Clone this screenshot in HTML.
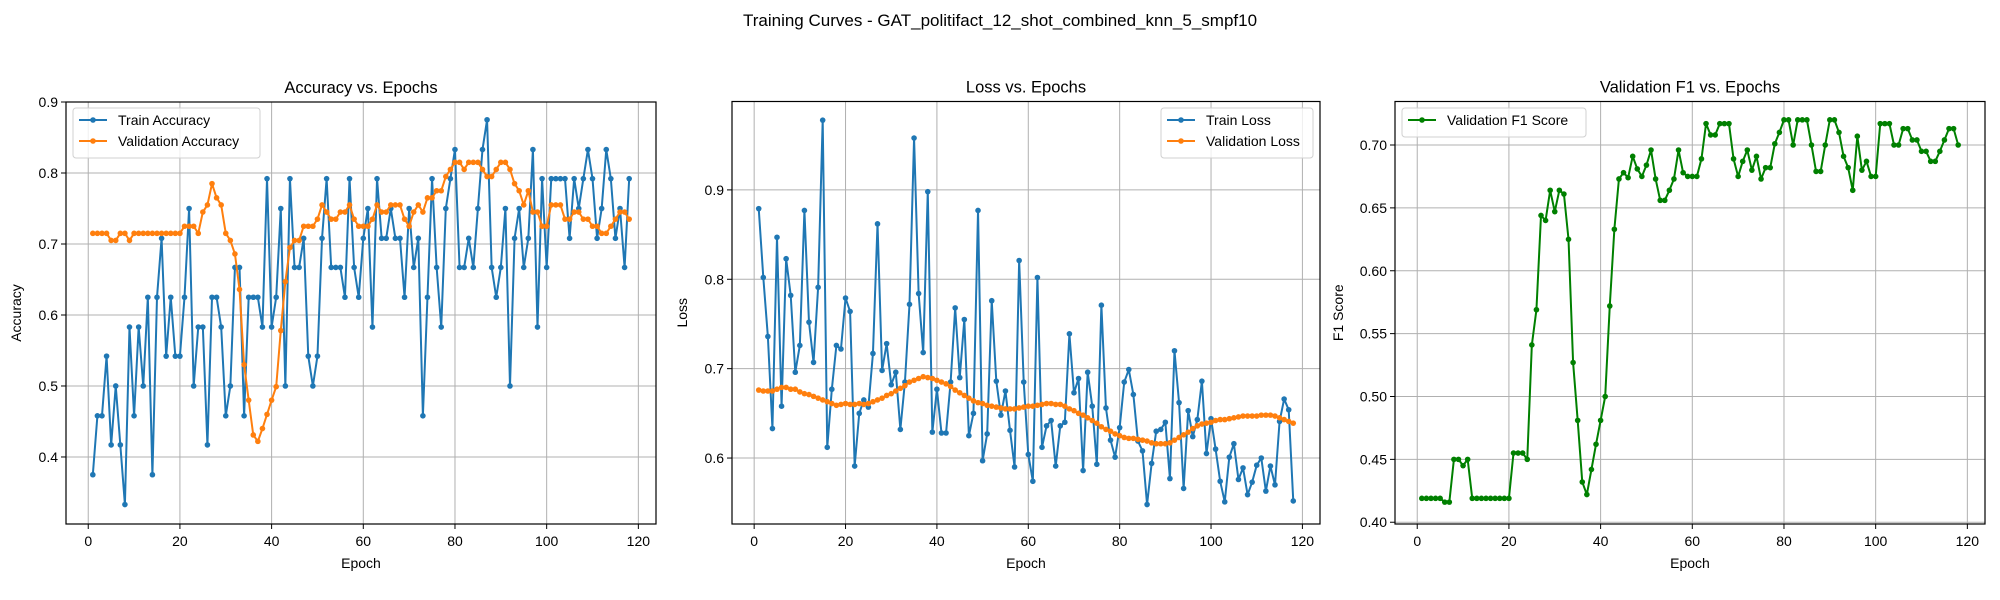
<!DOCTYPE html>
<html><head><meta charset="utf-8">
<style>
html,body{margin:0;padding:0;background:#fff;}
svg{display:block;font-family:"Liberation Sans","DejaVu Sans",sans-serif;}
</style></head>
<body>
<svg id="fig" width="2000" height="600" viewBox="0 0 2000 600" xmlns="http://www.w3.org/2000/svg">
<rect width="2000" height="600" fill="#fff"/>
<text x="1000" y="26" font-size="17" text-anchor="middle" fill="#000">Training Curves - GAT_politifact_12_shot_combined_knn_5_smpf10</text>
</svg>
<script>
const trainAcc=[0.375,0.458,0.458,0.542,0.417,0.5,0.417,0.333,0.583,0.458,0.583,0.5,0.625,0.375,0.625,0.708,0.542,0.625,0.542,0.542,0.625,0.75,0.5,0.583,0.583,0.417,0.625,0.625,0.583,0.458,0.5,0.667,0.667,0.458,0.625,0.625,0.625,0.583,0.792,0.583,0.625,
0.75,0.5,0.792,0.667,0.667,0.708,0.542,0.5,0.542,0.708,0.792,0.667,0.667,0.667,0.625,0.792,0.667,0.625,0.708,0.75,0.583,0.792,0.708,0.708,0.75,0.708,0.708,0.625,0.75,0.667,0.708,0.458,0.625,0.792,0.667,0.583,0.75,0.792,0.833,0.667,0.667,0.708,0.667,0.75,0.833,0.875,0.667,0.625,0.667,0.75,0.5,0.708,0.75,0.667,0.708,0.833,0.583,0.792,0.667,0.792,0.792,
0.792,0.792,0.708,0.792,0.75,0.792,0.833,0.792,0.708,0.75,0.833,0.792,0.708,0.75,0.667,0.792];
const valAcc=[0.715,0.715,0.715,0.715,0.705,0.705,0.715,0.715,0.705,0.715,0.715,0.715,0.715,0.715,0.715,0.715,0.715,0.715,0.715,0.715,0.725,0.725,0.725,0.715,0.745,0.755,0.785,0.765,0.755,0.715,0.705,0.686,0.636,0.53,0.48,0.431,0.422,0.44,0.46,0.48,0.499,
0.578,0.647,0.695,0.705,0.705,0.725,0.725,0.725,0.735,0.755,0.745,0.735,0.735,0.745,0.745,0.755,0.735,0.725,0.725,0.725,0.735,0.755,0.745,0.745,0.755,0.755,0.755,0.735,0.725,0.745,0.755,0.745,0.765,0.765,0.775,0.775,0.795,0.805,0.815,0.815,0.805,0.815,0.815,0.815,0.805,0.795,0.795,0.805,0.815,0.815,0.805,0.785,0.775,0.755,0.775,0.745,0.745,0.725,0.725,0.755,0.755,
0.755,0.735,0.735,0.745,0.745,0.735,0.735,0.725,0.725,0.715,0.715,0.725,0.735,0.745,0.745,0.735];
const trainLoss=[0.879,0.802,0.736,0.633,0.847,0.658,0.823,0.782,0.696,0.726,0.877,0.752,0.707,0.791,0.978,0.612,0.677,0.726,0.722,0.779,0.764,0.591,0.650,0.665,0.657,0.717,0.862,0.698,0.728,0.682,0.696,0.632,0.685,0.772,0.958,0.784,0.718,0.898,
0.629,0.677,0.628,0.628,0.685,0.768,0.690,0.755,0.625,0.650,0.877,0.597,0.627,0.776,0.686,0.648,0.675,0.631,0.590,0.821,0.685,0.604,0.574,0.802,0.612,0.636,0.642,0.591,0.636,0.640,0.739,0.673,0.689,0.586,0.696,0.658,0.593,0.771,0.656,0.620,0.601,0.634,0.685,0.699,
0.671,0.619,0.608,0.548,0.594,0.630,0.632,0.640,0.577,0.720,0.662,0.566,0.653,0.624,0.643,0.686,0.605,0.644,0.610,0.574,0.551,0.601,0.616,0.576,0.589,0.559,0.573,0.592,0.600,0.563,0.591,0.570,0.641,0.666,0.654,0.552];
const valLoss=[0.676,0.675,0.675,0.675,0.677,0.679,0.679,0.677,0.677,0.674,0.672,0.671,0.669,0.667,0.665,0.663,0.661,0.659,0.660,0.661,0.660,0.660,0.661,0.660,0.661,0.663,0.665,0.667,0.670,0.672,0.675,0.678,0.681,0.685,0.687,0.689,0.691,0.690,0.689,0.687,0.685,0.683,0.680,0.676,0.673,0.670,0.667,0.664,0.662,0.661,0.659,0.658,0.657,0.656,0.655,0.655,0.655,0.656,0.657,0.658,0.658,0.659,0.660,0.661,0.661,0.660,0.660,0.658,0.655,0.653,0.650,0.648,0.645,0.642,0.639,0.635,0.632,0.630,0.627,0.625,0.623,0.622,0.622,0.621,0.620,0.619,0.617,0.616,0.616,0.616,0.617,0.620,0.623,0.626,0.629,0.633,0.636,0.638,0.639,0.640,0.642,0.643,0.643,0.644,0.645,0.646,0.647,0.647,0.647,0.647,0.648,0.648,0.648,0.647,0.645,0.643,0.641,0.639];
const valF1=[0.419,0.419,0.419,0.419,0.419,0.416,0.416,0.450,0.450,0.445,0.450,0.419,0.419,0.419,0.419,0.419,0.419,0.419,0.419,0.419,0.455,0.455,0.455,0.450,0.541,0.569,0.644,0.640,0.664,0.647,0.664,0.661,0.625,0.527,0.481,0.432,0.422,0.442,0.462,0.481,0.500,0.572,0.633,0.673,0.678,0.674,0.691,0.681,0.675,0.684,0.696,0.673,0.656,0.656,0.664,0.673,0.696,0.678,0.675,0.675,0.675,0.689,0.717,0.708,0.708,0.717,0.717,0.717,0.689,0.675,0.687,0.696,0.680,0.691,0.673,0.682,0.682,0.701,0.710,0.720,0.720,0.700,0.720,0.720,0.720,0.700,0.679,0.679,0.700,0.720,0.720,0.710,0.691,0.682,0.664,0.707,0.680,0.687,0.675,0.675,0.717,0.717,0.717,0.700,0.700,0.713,0.713,0.704,0.704,0.695,0.695,0.687,0.687,0.695,0.704,0.713,0.713,0.700];
const xTicks=[0,20,40,60,80,100,120];
const accTicks=[0.4,0.5,0.6,0.7,0.8,0.9];
const lossTicks=[0.6,0.7,0.8,0.9];
const f1Ticks=[0.40,0.45,0.50,0.55,0.60,0.65,0.70];

const NS="http://www.w3.org/2000/svg";
const svg=document.getElementById('fig');
function mk(tag,attrs,parent){const e=document.createElementNS(NS,tag);for(const k in attrs)e.setAttribute(k,attrs[k]);(parent||svg).appendChild(e);return e;}

function panel(p){
  const g=mk('g',{});
  
  
  const X=e=>p.x0+(e-p.xmin)/(p.xmax-p.xmin)*(p.x1-p.x0);
  const Y=v=>p.y1-(v-p.ymin)/(p.ymax-p.ymin)*(p.y1-p.y0);
  // grid
  xTicks.forEach(t=>{const l=mk('line',{x1:X(t),x2:X(t),y1:p.y0,y2:p.y1,stroke:'#b0b0b0','stroke-width':1},g);
    });
  p.yt.forEach(t=>{const l=mk('line',{x1:p.x0,x2:p.x1,y1:Y(t),y2:Y(t),stroke:'#b0b0b0','stroke-width':1},g);
    });
  // series
  p.series.forEach(s=>{
    const sg=mk('g',{},g);
    
    
    const pts=s.data.map((v,i)=>X(i+1).toFixed(2)+','+Y(v).toFixed(2)).join(' ');
    mk('polyline',{points:pts,fill:'none',stroke:s.color,'stroke-width':2,'stroke-linejoin':'round'},sg);
    s.data.forEach((v,i)=>{const c=mk('circle',{cx:X(i+1),cy:Y(v),r:2.8,fill:s.color},sg);
      });
  });
  // frame
  const fr=mk('rect',{x:p.x0,y:p.y0,width:p.x1-p.x0,height:p.y1-p.y0,fill:'none',stroke:'#000','stroke-width':1.2},g);
  
  // ticks
  xTicks.forEach(t=>{mk('line',{x1:X(t),x2:X(t),y1:p.y1,y2:p.y1+5,stroke:'#000','stroke-width':1},g);
    const tx=mk('text',{x:X(t),y:p.y1+22,'font-size':14,'text-anchor':'middle',fill:'#000'},g);tx.textContent=t;
    });
  p.yt.forEach(t=>{mk('line',{x1:p.x0-5,x2:p.x0,y1:Y(t),y2:Y(t),stroke:'#000','stroke-width':1},g);
    const tx=mk('text',{x:p.x0-8,y:Y(t)+5,'font-size':14,'text-anchor':'end',fill:'#000'},g);tx.textContent=t.toFixed(p.dec);
    });
  const ti=mk('text',{x:(p.x0+p.x1)/2,y:p.y0-9,'font-size':16.5,'text-anchor':'middle',fill:'#000'},g);ti.textContent=p.title;
  
  const xl=mk('text',{x:(p.x0+p.x1)/2,y:p.y1+44,'font-size':14,'text-anchor':'middle',fill:'#000'},g);xl.textContent='Epoch';
  
  const yl=mk('text',{x:0,y:0,'font-size':14,'text-anchor':'middle',fill:'#000',transform:'translate('+p.ylx+','+((p.y0+p.y1)/2)+') rotate(-90)'},g);yl.textContent=p.ylabel;
  
  // legend
  const L=p.legend;
  const lg=mk('g',{},g);
  
  
  mk('rect',{x:L.x,y:L.y,width:L.w,height:8+21*p.series.length,rx:3,fill:'#fff','fill-opacity':0.8,stroke:'#d0d0d0','stroke-width':1},lg);
  p.series.forEach((s,i)=>{const cy=L.y+12+21*i;
    const eg=mk('g',{},lg);
    
    
    mk('line',{x1:L.x+6,x2:L.x+34,y1:cy,y2:cy,stroke:s.color,'stroke-width':2},eg);
    mk('circle',{cx:L.x+20,cy:cy,r:2.8,fill:s.color},eg);
    const t=mk('text',{x:L.x+45,y:cy+5,'font-size':14,fill:'#000'},eg);t.textContent=s.label;});
}
const XMIN=-4.85,XMAX=123.85;
panel({name:'accuracy-panel',title:'Accuracy vs. Epochs',ylabel:'Accuracy',ylx:21,x0:66,x1:656,y0:102,y1:524,xmin:XMIN,xmax:XMAX,ymin:0.3056,ymax:0.9,yt:accTicks,dec:1,
  legend:{x:73,y:108,w:187},
  series:[{name:'train-accuracy-line',label:'Train Accuracy',color:'#1f77b4',data:trainAcc},{name:'validation-accuracy-line',label:'Validation Accuracy',color:'#ff7f0e',data:valAcc}]});
panel({name:'loss-panel',title:'Loss vs. Epochs',ylabel:'Loss',ylx:687,x0:732,x1:1320,y0:101.5,y1:524,xmin:XMIN,xmax:XMAX,ymin:0.5262,ymax:0.9989,yt:lossTicks,dec:1,
  legend:{x:1161,y:108,w:152},
  series:[{name:'train-loss-line',label:'Train Loss',color:'#1f77b4',data:trainLoss},{name:'validation-loss-line',label:'Validation Loss',color:'#ff7f0e',data:valLoss}]});
panel({name:'f1-panel',title:'Validation F1 vs. Epochs',ylabel:'F1 Score',ylx:1343,x0:1395,x1:1985,y0:101.5,y1:524,xmin:XMIN,xmax:XMAX,ymin:0.3986,ymax:0.7346,yt:f1Ticks,dec:2,
  legend:{x:1402,y:108,w:184},
  series:[{name:'validation-f1-line',label:'Validation F1 Score',color:'#008000',data:valF1}]});
</script>
</body></html>
